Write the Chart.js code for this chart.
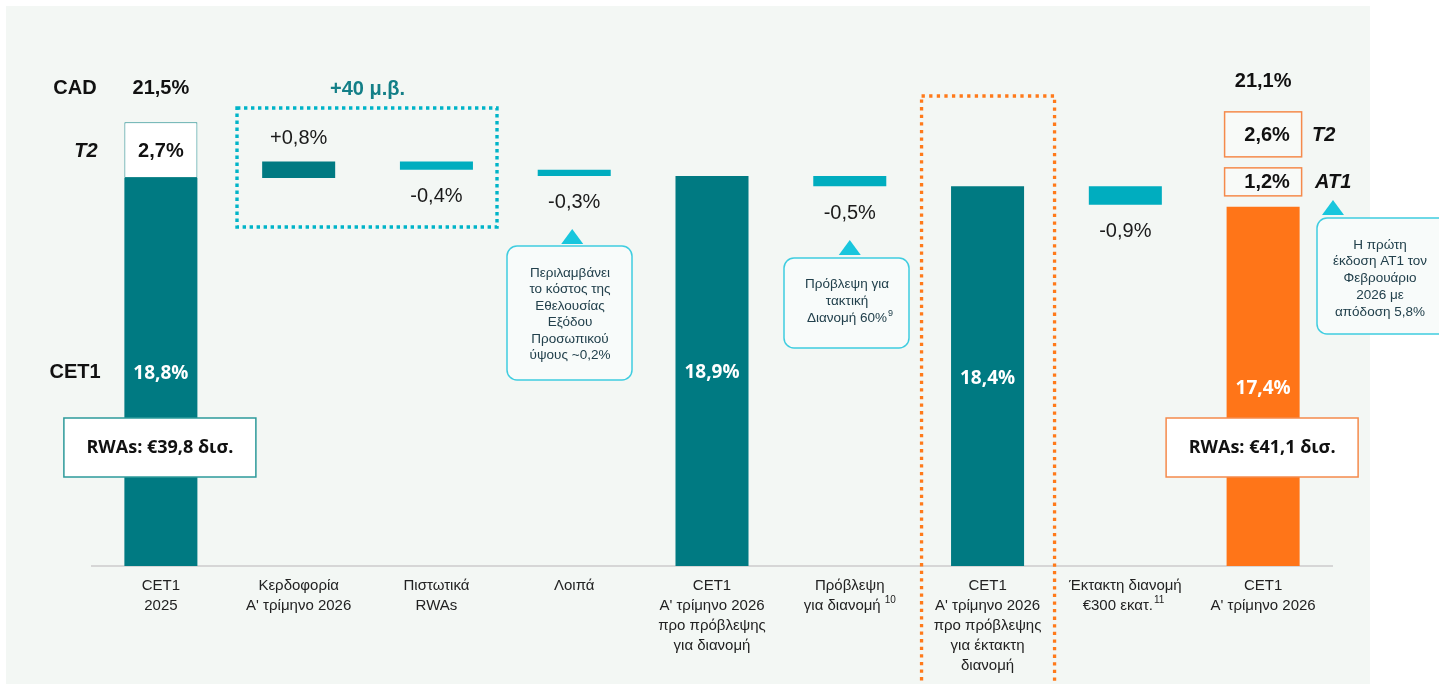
<!DOCTYPE html>
<html>
<head>
<meta charset="utf-8">
<script src="https://cdn.jsdelivr.net/npm/chart.js@4.4.1/dist/chart.umd.min.js"></script>
<style>
  html, body { margin: 0; padding: 0; background: #ffffff; }
  #c { display: block; }
</style>
</head>
<body>
<canvas id="c" width="1439" height="684"></canvas>
<script>
// ---------- DATA ----------
const categories = [
  ["CET1", "2025"],
  ["Κερδοφορία", "Α' τρίμηνο 2026"],
  ["Πιστωτικά", "RWAs"],
  ["Λοιπά"],
  ["CET1", "Α' τρίμηνο 2026", "προ πρόβλεψης", "για διανομή"],
  ["Πρόβλεψη", "για διανομή"],
  ["CET1", "Α' τρίμηνο 2026", "προ πρόβλεψης", "για έκτακτη", "διανομή"],
  ["Έκτακτη διανομή", "€300 εκατ."],
  ["CET1", "Α' τρίμηνο 2026"]
];
const categoryNotes = [null, null, null, null, null, "10", null, "11", null];
const cet1Values = [18.8, 0.8, -0.4, -0.3, 18.9, -0.5, 18.4, -0.9, 17.4];
const stepKinds  = ["total", "delta", "delta", "delta", "total", "delta", "total", "delta", "total"];
const valueLabels = ["18,8%", "+0,8%", "-0,4%", "-0,3%", "18,9%", "-0,5%", "18,4%", "-0,9%", "17,4%"];
const t2Values  = [2.7, null, null, null, null, null, null, null, 2.6];
const at1Values = [null, null, null, null, null, null, null, null, 1.2];
const cadValues = [21.5, null, null, null, null, null, null, null, 21.1];
const rwaLabels = ["RWAs: €39,8 δισ.", null, null, null, null, null, null, null, "RWAs: €41,1 δισ."];
const groupLabel = "+40 μ.β.";
const callout1 = ["Περιλαμβάνει", "το κόστος της", "Εθελουσίας", "Εξόδου", "Προσωπικού", "ύψους ~0,2%"];
const callout2 = ["Πρόβλεψη για", "τακτική", "Διανομή 60%"];
const callout2Sup = "9";
const callout3 = ["Η πρώτη", "έκδοση AT1 τον", "Φεβρουάριο", "2026 με", "απόδοση 5,8%"];

// ---------- DERIVED ----------
const ranges = [];
let level = 0;
cet1Values.forEach((v, i) => {
  if (stepKinds[i] === "total") { ranges.push([0, v]); level = v; }
  else { const nxt = +(level + v).toFixed(2); ranges.push([Math.min(level, nxt), Math.max(level, nxt)]); level = nxt; }
});
const t2Ranges = cet1Values.map((v, i) => (i === 0 && t2Values[i] != null) ? [v, +(v + t2Values[i]).toFixed(2)] : null);
const SUP_PAD = "\u2002\u2002";
const tickLabels = categories.map((lines, i) =>
  categoryNotes[i] ? lines.map((l, k) => k === lines.length - 1 ? l + SUP_PAD : l) : lines);

const DARK = "#007a82", CYAN = "#00adbf", ORANGE = "#ff7518";
const barColors = cet1Values.map((v, i) => {
  if (i === cet1Values.length - 1) return ORANGE;
  if (stepKinds[i] === "total") return DARK;
  return v > 0 ? DARK : CYAN;
});

// ---------- HELPERS ----------
function txt(ctx, s, x, y, font, color, align) {
  ctx.save();
  ctx.font = font; ctx.fillStyle = color; ctx.textAlign = align || "center"; ctx.textBaseline = "middle";
  ctx.fillText(s, x, y);
  ctx.restore();
}
function rrect(ctx, x, y, w, h, r) {
  ctx.beginPath();
  ctx.moveTo(x + r, y);
  ctx.lineTo(x + w - r, y); ctx.arcTo(x + w, y, x + w, y + r, r);
  ctx.lineTo(x + w, y + h - r); ctx.arcTo(x + w, y + h, x + w - r, y + h, r);
  ctx.lineTo(x + r, y + h); ctx.arcTo(x, y + h, x, y + h - r, r);
  ctx.lineTo(x, y + r); ctx.arcTo(x, y, x + r, y, r);
  ctx.closePath();
}
const CF = "13.5px 'Liberation Sans', Arial, sans-serif";
function callout(ctx, x, y, w, h, tipX, tipTop, lines, lineH, textX, textY0) {
  ctx.save();
  ctx.fillStyle = "#18c6dd";
  ctx.beginPath();
  ctx.moveTo(tipX, tipTop); ctx.lineTo(tipX + 11, tipTop + 15); ctx.lineTo(tipX - 11, tipTop + 15); ctx.closePath(); ctx.fill();
  rrect(ctx, x, y, w, h, 10);
  ctx.fillStyle = "#f8fbfa"; ctx.fill();
  ctx.strokeStyle = "#3fcde0"; ctx.lineWidth = 1.5; ctx.stroke();
  ctx.restore();
  lines.forEach((l, k) => txt(ctx, l, textX, textY0 + k * lineH, CF, "#22404c"));
}
function dottedRect(ctx, x, y, w, h, color) {
  ctx.save();
  ctx.strokeStyle = color; ctx.lineWidth = 3.4; ctx.setLineDash([3.4, 3.6]);
  ctx.strokeRect(x, y, w, h);
  ctx.restore();
}

const FB = "bold 20px 'Liberation Sans', Arial, sans-serif";
const FBI = "italic bold 20px 'Liberation Sans', Arial, sans-serif";
const FR = "20px 'Liberation Sans', Arial, sans-serif";
const FW = "bold 19px 'Open Sans', 'Liberation Sans', sans-serif";
const TICK_FONT = { family: "'Liberation Sans', Arial, sans-serif", size: 15, lineHeight: "20px" };

const annotations = {
  id: "annotations",
  beforeDraw(chart) {
    const ctx = chart.ctx;
    ctx.save();
    ctx.fillStyle = "#ffffff"; ctx.fillRect(0, 0, chart.width, chart.height);
    ctx.fillStyle = "#f3f7f4"; ctx.fillRect(6, 6, 1364, 684);
    ctx.restore();
  },
  afterDatasetsDraw(chart) {
    const ctx = chart.ctx;
    const xs = chart.scales.x, ys = chart.scales.y;
    const meta = chart.getDatasetMeta(0);
    const last = cet1Values.length - 1;

    const x0 = xs.getPixelForValue(0);
    const t2Top = ys.getPixelForValue(t2Ranges[0][1]);
    txt(ctx, "CAD", 75, t2Top - 34, FB, "#111");
    txt(ctx, cadValues[0].toFixed(1).replace(".", ",") + "%", x0, t2Top - 34, FB, "#111");
    const t2Mid = (t2Top + ys.getPixelForValue(t2Ranges[0][0])) / 2;
    txt(ctx, "T2", 86, t2Mid + 1, FBI, "#111");
    txt(ctx, t2Values[0].toFixed(1).replace(".", ",") + "%", x0, t2Mid + 1, FB, "#111");

    cet1Values.forEach((v, i) => {
      const x = meta.data[i].x;
      if (stepKinds[i] === "total") {
        const top = ys.getPixelForValue(ranges[i][1]), bot = ys.getPixelForValue(0);
        txt(ctx, valueLabels[i], x, (top + bot) / 2 + 2, FW, "#ffffff");
      } else if (v > 0) {
        txt(ctx, valueLabels[i], x, ys.getPixelForValue(ranges[i][1]) - 23, FR, "#1a1a1a");
      } else {
        txt(ctx, valueLabels[i], x, ys.getPixelForValue(ranges[i][0]) + 27, FR, "#1a1a1a");
      }
    });
    txt(ctx, "CET1", 75, (ys.getPixelForValue(ranges[0][1]) + ys.getPixelForValue(0)) / 2 + 1, FB, "#111");

    // last bar: AT1 and T2 boxes
    const xl = xs.getPixelForValue(last);
    const topL = ys.getPixelForValue(ranges[last][1]);
    const bw = meta.data[last].width + 4;
    ctx.save();
    ctx.strokeStyle = "#f58a4b"; ctx.lineWidth = 1.5; ctx.fillStyle = "#f8faf8";
    ctx.fillRect(xl - bw / 2, topL - 39, bw, 28); ctx.strokeRect(xl - bw / 2, topL - 39, bw, 28);
    ctx.fillRect(xl - bw / 2, topL - 95, bw, 45); ctx.strokeRect(xl - bw / 2, topL - 95, bw, 45);
    ctx.restore();
    txt(ctx, at1Values[last].toFixed(1).replace(".", ",") + "%", xl + 4, topL - 24, FB, "#111");
    txt(ctx, "AT1", xl + 52, topL - 24, FBI, "#111", "left");
    txt(ctx, t2Values[last].toFixed(1).replace(".", ",") + "%", xl + 4, topL - 71, FB, "#111");
    txt(ctx, "T2", xl + 49, topL - 71, FBI, "#111", "left");
    txt(ctx, cadValues[last].toFixed(1).replace(".", ",") + "%", xl, topL - 125, FB, "#111");

    // RWAs boxes
    [[0, "#2c9a9a"], [last, "#f58a4b"]].forEach(([i, col]) => {
      const x = xs.getPixelForValue(i);
      ctx.save();
      ctx.fillStyle = "#ffffff"; ctx.fillRect(x - 97, 418, 192, 59);
      ctx.strokeStyle = col; ctx.lineWidth = 1.5; ctx.strokeRect(x - 97, 418, 192, 59);
      ctx.restore();
      txt(ctx, rwaLabels[i], x - 1, 448, "bold 18px 'Open Sans', 'Liberation Sans', sans-serif", "#111");
    });

    dottedRect(ctx, 237, 108, 260, 119, "#00b4c8");
    txt(ctx, groupLabel, (xs.getPixelForValue(1) + xs.getPixelForValue(2)) / 2, 89, FB, "#137f87");

    callout(ctx, 507, 246, 125, 134, xs.getPixelForValue(3) - 2, 229, callout1, 16.5, 570, 273);
    callout(ctx, 784, 258, 125, 90, xs.getPixelForValue(5), 240, callout2, 17, 847, 284);
    ctx.save(); ctx.font = CF;
    const w2 = ctx.measureText(callout2[2]).width; ctx.restore();
    txt(ctx, callout2Sup, 847 + w2 / 2 + 1, 314, "9px 'Liberation Sans', Arial, sans-serif", "#22404c", "left");
    callout(ctx, 1317, 218, 140, 116, 1333, 200, callout3, 16.7, 1380, 245);
  },
  afterDraw(chart) {
    const ctx = chart.ctx;
    const xs = chart.scales.x;
    // superscript notes on category labels
    ctx.save();
    const f = `${TICK_FONT.size}px ${TICK_FONT.family}`;
    categoryNotes.forEach((n, i) => {
      if (!n) return;
      const lines = tickLabels[i];
      const k = lines.length - 1;
      ctx.font = f;
      const full = ctx.measureText(lines[k]).width;
      const base = ctx.measureText(categories[i][k]).width;
      const x = xs.getPixelForValue(i) - full / 2 + base + (i === 5 ? 4 : 1);
      const y = xs.top + 10 + 20 * k + 10 - 6;
      txt(ctx, n, x, y, f.replace("15px", "10px"), "#222", "left");
    });
    ctx.restore();

    const x6 = xs.getPixelForValue(6);
    ctx.save();
    ctx.strokeStyle = "#ff7a1a"; ctx.lineWidth = 3.3; ctx.setLineDash([3.3, 4.3]);
    ctx.strokeRect(x6 - 66, 96, 133, 600);
    ctx.restore();
  }
};

new Chart(document.getElementById("c"), {
  type: "bar",
  data: {
    labels: tickLabels,
    datasets: [
      { label: "CET1", data: ranges, backgroundColor: barColors, borderWidth: 0,
        barPercentage: 0.53, categoryPercentage: 1, grouped: false, order: 1 },
      { label: "T2", data: t2Ranges, backgroundColor: "#ffffff", borderColor: "#1d8a8f", borderWidth: 1,
        borderSkipped: false, barPercentage: 0.53, categoryPercentage: 1, grouped: false, order: 2 }
    ]
  },
  options: {
    responsive: false,
    animation: false,
    devicePixelRatio: 1,
    layout: { padding: { left: 92, right: 107, top: 50, bottom: 0 } },
    plugins: { legend: { display: false }, tooltip: { enabled: false } },
    scales: {
      x: {
        grid: { display: false, drawTicks: false },
        border: { display: true, color: "#d6d6d6", width: 2 },
        ticks: { color: "#222", padding: 10, maxRotation: 0, autoSkip: false, font: TICK_FONT },
        afterFit(scale) { scale.height = 118; }
      },
      y: { display: false, min: 0, max: 25 }
    }
  },
  plugins: [annotations]
});
</script>
</body>
</html>
